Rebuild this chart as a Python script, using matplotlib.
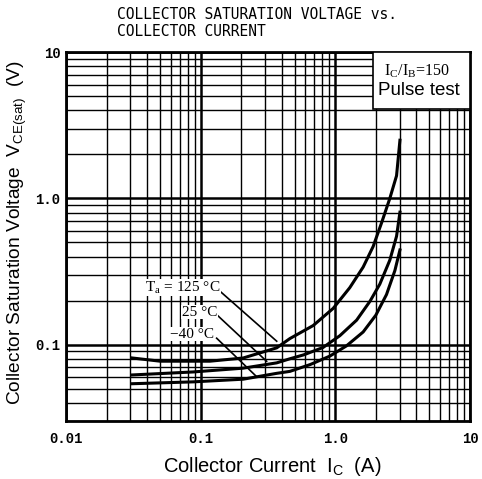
import matplotlib
matplotlib.use("Agg")
import matplotlib.pyplot as plt
from matplotlib.ticker import FixedLocator, NullFormatter, LogLocator
from matplotlib.patches import Rectangle

plt.rcParams['mathtext.fontset'] = 'custom'
plt.rcParams['mathtext.rm'] = 'Liberation Sans'
plt.rcParams['mathtext.it'] = 'Liberation Sans'

# courbes (Ic en A, Vce(sat) en V)
ic_125 = [0.031, 0.05, 0.117, 0.207, 0.367, 0.46, 0.685, 0.965, 1.28, 1.61, 1.91, 2.21, 2.54, 2.85, 3.02]
vce_125 = [0.081, 0.077, 0.077, 0.081, 0.095, 0.11, 0.135, 0.177, 0.245, 0.339, 0.469, 0.684, 1.0, 1.43, 2.5]

ic_25 = [0.031, 0.088, 0.207, 0.367, 0.46, 0.58, 0.81, 1.08, 1.44, 1.81, 2.14, 2.54, 2.85, 3.02]
vce_25 = [0.062, 0.065, 0.069, 0.075, 0.08, 0.085, 0.0955, 0.115, 0.147, 0.198, 0.259, 0.378, 0.551, 0.805]

ic_m40 = [0.031, 0.088, 0.207, 0.367, 0.46, 0.65, 0.91, 1.21, 1.61, 2.0, 2.4, 2.77, 3.02]
vce_m40 = [0.054, 0.0556, 0.058, 0.0636, 0.0656, 0.073, 0.0834, 0.098, 0.122, 0.159, 0.22, 0.321, 0.444]

x_ticks = [0.01, 0.1, 1.0, 10]
x_labels = ["0.01", "0.1", "1.0", "10"]
y_ticks = [0.1, 1.0, 10]
y_labels = ["0.1", "1.0", "10"]

# etiquettes des temperatures : texte, position du texte, bout de la fleche
labels_temp = [r"T$_\mathregular{a}$ = 125 °C", "25 °C", "−40 °C"]
pos_texte = [(0.0386, 0.245), (0.0726, 0.167), (0.0592, 0.118)]
debut_fleche = [(0.139, 0.232), (0.124, 0.1686), (0.1314, 0.1106)]
fin_fleche = [(0.367, 0.1055), (0.309, 0.0769), (0.2606, 0.0603)]

fig = plt.figure(figsize=(4.82, 4.79), dpi=100)
ax = fig.add_axes([0.137, 0.121, 0.838, 0.77])
ax.set_xscale('log')
ax.set_yscale('log')
ax.set_xlim(0.01, 10)
ax.set_ylim(0.03, 10)

# grille facon datasheet
ax.xaxis.set_minor_locator(LogLocator(base=10, subs=range(2, 10)))
ax.yaxis.set_minor_locator(LogLocator(base=10, subs=range(2, 10)))
ax.grid(True, which='major', color='black', linewidth=1.8)
ax.grid(True, which='minor', color='black', linewidth=1.0)

ax.xaxis.set_major_locator(FixedLocator(x_ticks))
ax.set_xticklabels(x_labels)
ax.yaxis.set_major_locator(FixedLocator(y_ticks))
ax.set_yticklabels(y_labels)
ax.xaxis.set_minor_formatter(NullFormatter())
ax.yaxis.set_minor_formatter(NullFormatter())
ax.tick_params(which='both', length=0)
ax.tick_params(axis='x', pad=8)
ax.tick_params(axis='y', pad=4)
for lab in ax.get_xticklabels() + ax.get_yticklabels():
    lab.set_fontfamily('Liberation Mono')
    lab.set_fontsize(10)
    lab.set_fontweight('bold')
for sp in ax.spines.values():
    sp.set_linewidth(2)
    sp.set_color('black')

ax.plot(ic_125, vce_125, color='black', linewidth=2.2)
ax.plot(ic_25, vce_25, color='black', linewidth=2.2)
ax.plot(ic_m40, vce_m40, color='black', linewidth=2.2)

for txt, p, d, f in zip(labels_temp, pos_texte, debut_fleche, fin_fleche):
    ax.text(p[0], p[1], txt, fontfamily='Liberation Serif', fontsize=11,
            ha='left', va='center', math_fontfamily='stix',
            bbox=dict(facecolor='white', edgecolor='none', pad=0.3))
    ax.plot([d[0], f[0]], [d[1], f[1]], color='black', linewidth=1.2)

# cadre en haut a droite
ax.add_patch(Rectangle((0.759, 0.8455), 0.241, 0.1545, transform=ax.transAxes,
                       facecolor='white', edgecolor='black', linewidth=1.2, zorder=5))
ax.text(0.869, 0.9466, r"I$_\mathregular{C}$/I$_\mathregular{B}$=150", transform=ax.transAxes,
        fontfamily='Liberation Serif', fontsize=11.5, ha='center', va='center',
        math_fontfamily='stix', zorder=6)
ax.text(0.874, 0.897, "Pulse test", transform=ax.transAxes, fontfamily='Liberation Sans',
        fontsize=13.5, ha='center', va='center', zorder=6)

ax.set_xlabel(r"Collector Current  I$_\mathregular{C}$  (A)", fontfamily='Liberation Sans',
              fontsize=14.5, math_fontfamily='custom')
ax.xaxis.set_label_coords(0.51, -0.122)
ax.xaxis.label.set_va('center')
ax.set_ylabel(r"Collector Saturation Voltage  V$_\mathregular{CE(sat)}$  (V)",
              fontfamily='Liberation Sans', fontsize=13.8, math_fontfamily='custom')
ax.yaxis.set_label_coords(-0.121, 0.51)
ax.yaxis.label.set_va('center')

fig.text(0.243, 0.952, "COLLECTOR SATURATION VOLTAGE vs.\nCOLLECTOR CURRENT",
         fontfamily='DejaVu Sans Mono', fontsize=10.5, ha='left', va='center', linespacing=1.1)

plt.savefig('out.png', dpi=100)
